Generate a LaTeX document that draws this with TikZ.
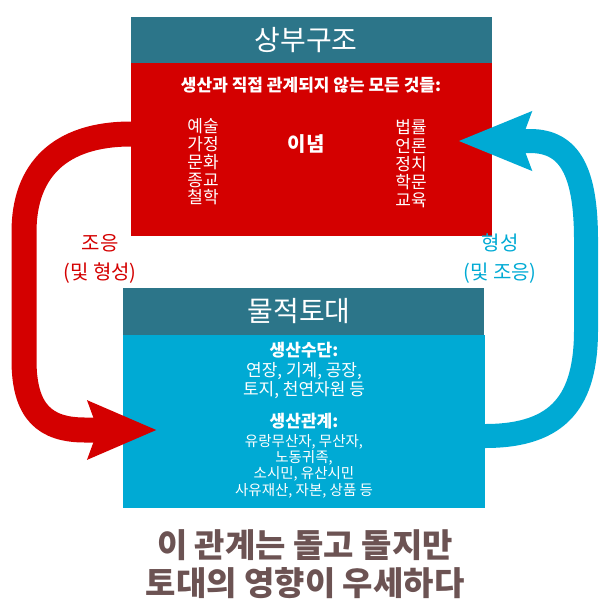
\documentclass[tikz,border=0pt]{standalone}
\usepackage{fontspec}
\setmainfont{Noto Sans CJK KR}
\usetikzlibrary{arrows.meta,calc}
\definecolor{hdteal}{HTML}{2C7589}
\definecolor{redc}{HTML}{D40000}
\definecolor{bluec}{HTML}{00AAD4}
\definecolor{brownc}{HTML}{6C5353}
\tikzset{
  header/.style={fill=hdteal, draw=none, inner sep=0pt, outer sep=0pt, anchor=north west, minimum width=361pt, minimum height=46pt},
  redpanel/.style={fill=redc, draw=none, inner sep=0pt, outer sep=0pt, anchor=north west, minimum width=361pt, minimum height=173pt},
  bluepanel/.style={fill=bluec, draw=none, inner sep=0pt, outer sep=0pt, anchor=north west, minimum width=362pt, minimum height=173pt},
  wtxt/.style={text=white, inner sep=0pt, align=center},
  flowred/.style={draw=redc, line width=25pt, -{Stealth[length=68pt,width=56pt,inset=9pt]}},
  flowblue/.style={draw=bluec, line width=24pt, -{Stealth[length=72pt,width=56pt,inset=9pt]}},
}
\begin{document}
\begin{tikzpicture}[x=1pt,y=-1pt]
\useasboundingbox (0,0) rectangle (612,600);

% upper block
\node[header] (tophead) at (131,17) {};
\node[redpanel] (redbody) at (131,63) {};
\node[wtxt, font=\fontsize{28}{30}\selectfont] (toptitle) at (306,40) {상부구조};
\node[wtxt, font=\bfseries\fontsize{17}{18}\selectfont] (redsub) at (311,85) {생산과 직접 관계되지 않는 모든 것들:};
\node[wtxt, font=\fontsize{17}{17.75}\selectfont] (leftlist) at (203,162) {예술\\가정\\문화\\종교\\철학};
\node[wtxt, font=\bfseries\fontsize{20}{20}\selectfont] (ideology) at (306,144) {이념};
\node[wtxt, font=\fontsize{17}{18.3}\selectfont] (rightlist) at (411,164) {법률\\언론\\정치\\학문\\교육};

% lower block
\node[header, minimum height=47pt] (bothead) at (123,288) {};
\node[bluepanel] (bluebody) at (123,335) {};
\node[wtxt, font=\fontsize{28}{30}\selectfont] (bottitle) at (299,311) {물적토대};
\node[wtxt, font=\bfseries\fontsize{17}{19}\selectfont] (meanshd) at (304,350) {생산수단:};
\node[wtxt, font=\fontsize{17}{19}\selectfont] (means) at (304,381) {연장, 기계, 공장,\\토지, 천연자원 등};
\node[wtxt, font=\bfseries\fontsize{17}{19}\selectfont] (relhd) at (304,421) {생산관계:};
\node[wtxt, font=\fontsize{14.5}{16.3}\selectfont] (rels) at (304,466) {유랑무산자, 무산자,\\노동귀족,\\소시민, 유산시민\\사유재산, 자본, 상품 등};

% side labels
\node[text=redc, inner sep=0pt, align=center, font=\fontsize{20}{29}\selectfont] (leftlbl) at (100,259) {조응\\(및 형성)};
\node[text=bluec, inner sep=0pt, align=center, font=\fontsize{20}{29}\selectfont] (rightlbl) at (500,259) {형성\\(및 조응)};

% arrows
\coordinate (redtip) at ($(bluebody.north west)+(34,95)$);
\coordinate (bluetip) at ($(redbody.north east)+(-34,78)$);
\draw[flowred] ($(redbody.north west)+(0,71)$) .. controls (60,134) and (24,170) .. (24,232) -- (24,360) .. controls (24,412) and (45,430) .. (85,430) -- (redtip);
\draw[flowblue] ($(bluebody.north east)+(0,101)$) .. controls (560,436) and (586,400) .. (586,330) -- (586,240) .. controls (586,172) and (570,141) .. (530,141) -- (bluetip);

% bottom caption
\node[text=brownc, inner sep=0pt, align=center, font=\bfseries\fontsize{33}{38}\selectfont] (caption) at (305,564) {이 관계는 돌고 돌지만\\토대의 영향이 우세하다};
\end{tikzpicture}
\end{document}
